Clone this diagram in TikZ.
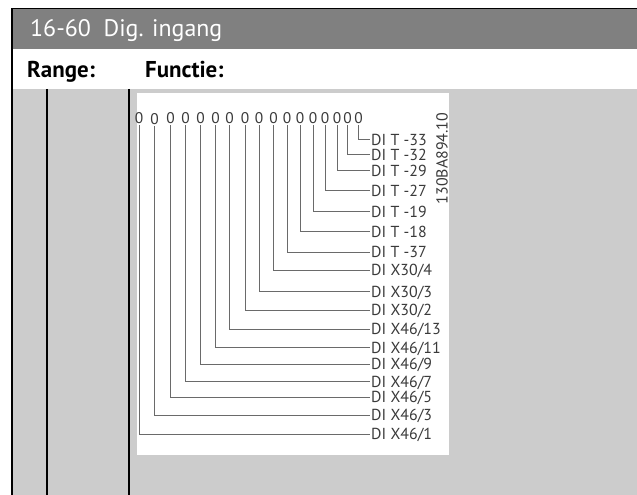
\documentclass[tikz,border=0pt]{standalone}
\usepackage{fontspec}
\setmainfont{PT Sans}
\definecolor{hdr}{HTML}{808080}
\definecolor{bodygray}{HTML}{CCCCCC}
\definecolor{ink}{HTML}{3A3A3A}
\definecolor{wire}{HTML}{6A6A6A}
\begin{document}
\begin{tikzpicture}[x=1bp,y=-1bp,
  zero/.style={font=\fontsize{15.5}{16}\selectfont, text=ink, inner sep=0pt},
  lab/.style={anchor=west, font=\fontsize{16}{17}\selectfont, text=ink, inner sep=1.5bp, text height=11bp, text depth=0pt},
  wireline/.style={draw=wire, line width=1bp, shorten <=1.5bp},
  rule/.style={draw=black, line width=1.4bp},
  headtext/.style={anchor=base west, inner sep=0pt, font=\fontsize{24}{25}\selectfont},
  coltext/.style={anchor=base west, inner sep=0pt, font=\bfseries\fontsize{23}{24}\selectfont}]
\useasboundingbox (0,0) rectangle (637,495);
% table
\fill[bodygray] (12,89) rectangle (637,495);
\fill[hdr] (12,8.5) rectangle (637,49);
\draw[rule] (11.3,8.5) -- (637,8.5);
\draw[rule] (12,8.5) -- (12,495);
\draw[rule] (47,89) -- (47,495);
\draw[rule] (129,89) -- (129,495);
\node[headtext, text=white] (title) at (30,37) {16-60\ \ Dig. ingang};
\node[coltext] (range) at (27,77.5) {Range:};
\node[coltext] (functie) at (145,77.5) {Functie:};
% legend figure
\fill[white] (137,93) rectangle (449,455);
\node[zero] (z1) at (139,118) {0};
\node[zero] (z2) at (154.5,119) {0};
\node[zero] (z3) at (170.5,118) {0};
\node[zero] (z4) at (185.5,118) {0};
\node[zero] (z5) at (200.5,118) {0};
\node[zero] (z6) at (215.5,118) {0};
\node[zero] (z7) at (229.5,118) {0};
\node[zero] (z8) at (245,118) {0};
\node[zero] (z9) at (259,118) {0};
\node[zero] (z10) at (273.5,118) {0};
\node[zero] (z11) at (287,118) {0};
\node[zero] (z12) at (300,118) {0};
\node[zero] (z13) at (313,118) {0};
\node[zero] (z14) at (325,118) {0};
\node[zero] (z15) at (337,118) {0};
\node[zero] (z16) at (347.5,118) {0};
\node[zero] (z17) at (358.5,118) {0};
\node[lab] (l1) at (369.5,434) {DI X46/1};
\node[lab] (l2) at (369.5,415) {DI X46/3};
\node[lab] (l3) at (369.5,397) {DI X46/5};
\node[lab] (l4) at (369.5,381.5) {DI X46/7};
\node[lab] (l5) at (369.5,364) {DI X46/9};
\node[lab] (l6) at (369.5,347.5) {DI X46/11};
\node[lab] (l7) at (369.5,329) {DI X46/13};
\node[lab] (l8) at (369.5,310) {DI X30/2};
\node[lab] (l9) at (369.5,291.5) {DI X30/3};
\node[lab] (l10) at (369.5,270) {DI X30/4};
\node[lab] (l11) at (369.5,252) {DI T -37};
\node[lab] (l12) at (369.5,232) {DI T -18};
\node[lab] (l13) at (369.5,212) {DI T -19};
\node[lab] (l14) at (369.5,191) {DI T -27};
\node[lab] (l15) at (369.5,171) {DI T -29};
\node[lab] (l16) at (369.5,155) {DI T -32};
\node[lab] (l17) at (369.5,140) {DI T -33};
\foreach \i in {1,...,17} {
  \draw[wireline] (z\i.south) |- (l\i.west);
}
\node[rotate=90, font=\fontsize{16}{17}\selectfont, text=ink, inner sep=0pt] (code) at (442,158.5) {130BA894.10};
\end{tikzpicture}
\end{document}
